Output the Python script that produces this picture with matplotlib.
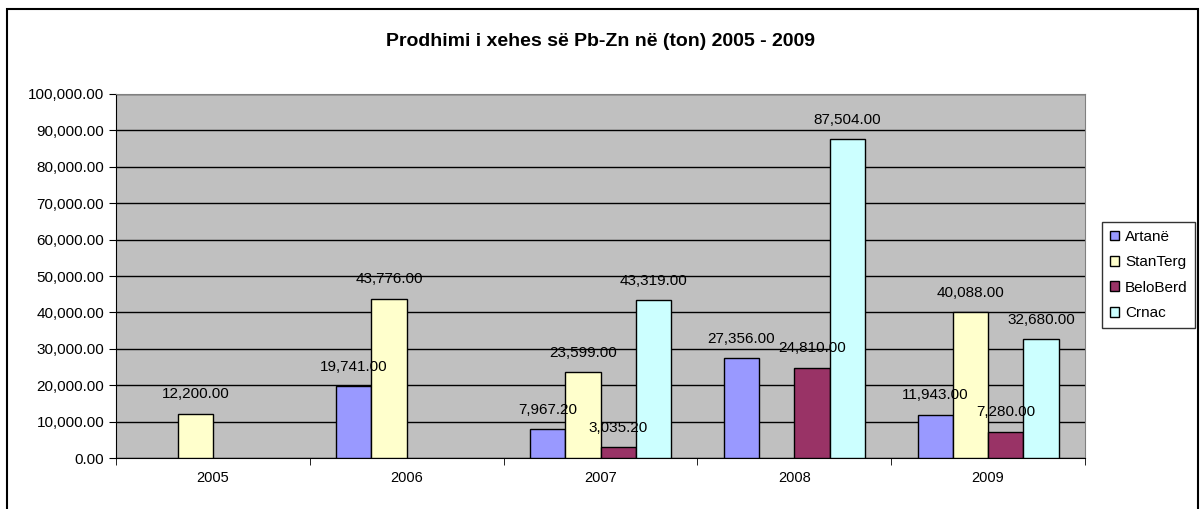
# Prodhimi i xehes se Pb-Zn - bar chart (Excel style)
import numpy as np
import matplotlib.pyplot as plt
from matplotlib.patches import Rectangle

plt.rcParams['font.family'] = ['Liberation Sans', 'DejaVu Sans']

# ==========================================
# DATA
# ==========================================
years = ["2005", "2006", "2007", "2008", "2009"]
artane = [0, 19741.00, 7967.20, 27356.00, 11943.00]
stanterg = [12200.00, 43776.00, 23599.00, 0, 40088.00]
beloberd = [0, 0, 3035.20, 24810.00, 7280.00]
crnac = [0, 0, 43319.00, 87504.00, 32680.00]

series = [("Artanë", artane, "#9999FF"),
          ("StanTerg", stanterg, "#FFFFCC"),
          ("BeloBerd", beloberd, "#993366"),
          ("Crnac", crnac, "#CCFFFF")]

# ==========================================
# FIGURE
# ==========================================
fig = plt.figure(figsize=(12, 5.09), dpi=100)
ax = fig.add_axes([116/1200, 1 - 458/509, (1085 - 116)/1200, (458 - 94)/509])
ax.set_facecolor("#C0C0C0")

x = np.arange(len(years))
w = 1 / 5.5

for i, (name, vals, col) in enumerate(series):
    pos = x + (i - 1.5) * w
    heights = [v if v > 0 else np.nan for v in vals]  # empty cells: no bar
    ax.bar(pos, heights, width=w, color=col, edgecolor="black", linewidth=1,
           label=name, zorder=3)
    for px, v in zip(pos, vals):
        if v > 0:
            ax.annotate(f"{v:,.2f}", (px, v), xytext=(0, 11),
                        textcoords="offset points", ha="center",
                        va="baseline", fontsize=11, zorder=5)

ax.set_ylim(0, 100000)
ax.set_xlim(-0.5, len(years) - 0.5)
ax.set_yticks(np.arange(0, 100001, 10000))
ax.set_yticklabels([f"{t:,.2f}" for t in np.arange(0, 100001, 10000)],
                   fontsize=11)
ax.yaxis.grid(True, color="black", linewidth=1)
ax.set_axisbelow(True)

# category labels at centers, tick marks between categories
ax.set_xticks(x)
ax.set_xticklabels(years, fontsize=10.5)
ax.tick_params(axis="x", length=0, pad=9)
ax.set_xticks(np.arange(-0.5, len(years)), minor=True)
ax.tick_params(axis="x", which="minor", length=5, color="black")
ax.tick_params(axis="y", length=5, color="black")

ax.spines["top"].set_color("#808080")
ax.spines["right"].set_color("#808080")
ax.spines["left"].set_color("black")
ax.spines["bottom"].set_color("black")

# ==========================================
# TITLE, LEGEND, BORDER
# ==========================================
fig.text(0.5, 1 - 42/509, "Prodhimi i xehes së Pb-Zn në (ton) 2005 - 2009",
         ha="center", va="center", fontsize=14, fontweight="bold")

leg = fig.legend(loc="center left", bbox_to_anchor=(1102/1200, 1 - 275/509),
                 fontsize=11, frameon=True, fancybox=False, borderaxespad=0,
                 handlelength=0.6, handleheight=0.6, handletextpad=0.4,
                 labelspacing=0.75, borderpad=0.5, edgecolor="black")
leg.get_frame().set_linewidth(1)

fig.patches.append(Rectangle((7/1200, -0.1), (1198 - 7)/1200, 1.1 - 9/509,
                             transform=fig.transFigure, fill=False,
                             edgecolor="black", linewidth=1.5))

plt.savefig("out.png", dpi=100)
